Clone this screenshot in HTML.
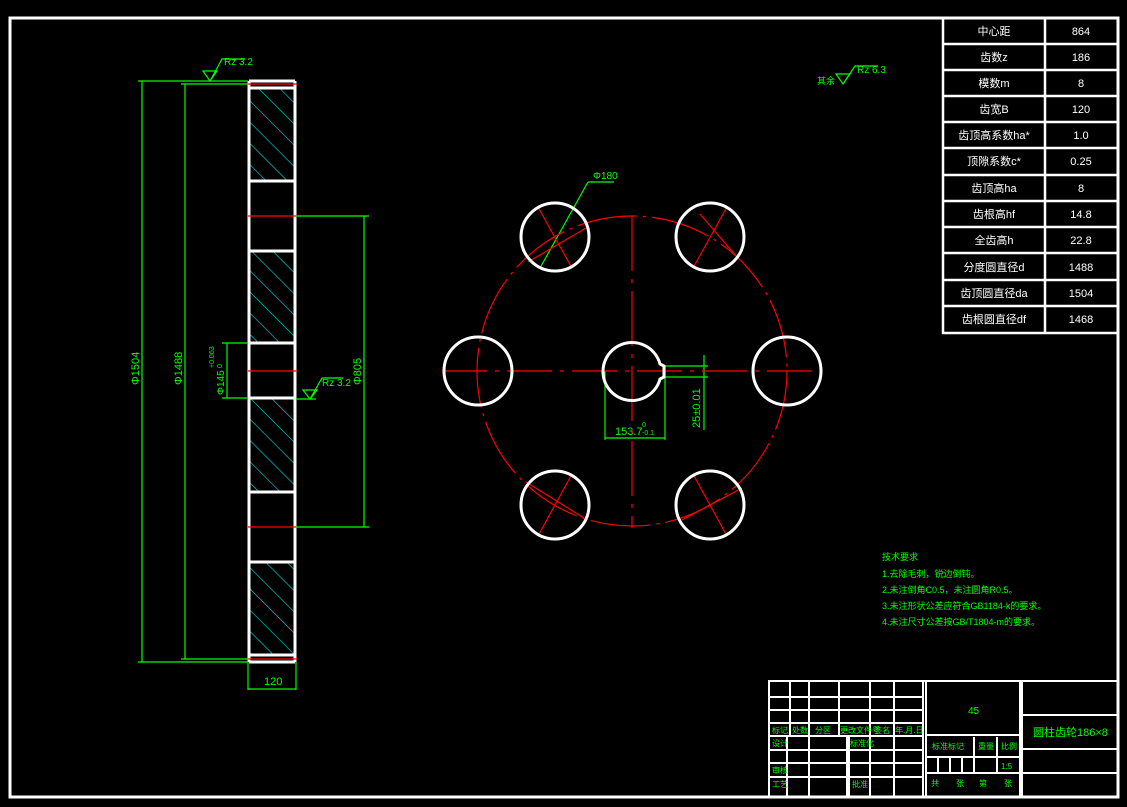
<!DOCTYPE html>
<html><head><meta charset="utf-8"><style>
html,body{margin:0;padding:0;background:#000;}
svg{display:block}
text{font-family:"Liberation Sans","Noto Sans CJK SC",sans-serif;}
</style></head><body>
<svg width="1127" height="807" viewBox="0 0 1127 807" xmlns="http://www.w3.org/2000/svg">
<defs>
<pattern id="h" patternUnits="userSpaceOnUse" width="15" height="15" patternTransform="rotate(-45)">
<line x1="0" y1="0" x2="0" y2="15" stroke="#00e0e0" stroke-width="1.2"/>
</pattern>
</defs>
<rect width="1127" height="807" fill="#000"/>
<rect x="10" y="18" width="1108" height="779" fill="none" stroke="#fff" stroke-width="3"/>

<g stroke="#fff" stroke-width="2.5" fill="none">
<rect x="943" y="18" width="175" height="315"/>
<line x1="1045" y1="18" x2="1045" y2="333"/>
<line x1="943" y1="44" x2="1118" y2="44"/><line x1="943" y1="70" x2="1118" y2="70"/>
<line x1="943" y1="96" x2="1118" y2="96"/><line x1="943" y1="122" x2="1118" y2="122"/>
<line x1="943" y1="148" x2="1118" y2="148"/><line x1="943" y1="175" x2="1118" y2="175"/>
<line x1="943" y1="201" x2="1118" y2="201"/><line x1="943" y1="227" x2="1118" y2="227"/>
<line x1="943" y1="253" x2="1118" y2="253"/><line x1="943" y1="280" x2="1118" y2="280"/>
<line x1="943" y1="306" x2="1118" y2="306"/>
</g>
<g fill="#fff" font-size="11" text-anchor="middle">
<text x="994" y="35">中心距</text><text x="1081" y="35">864</text>
<text x="994" y="61">齿数z</text><text x="1081" y="61">186</text>
<text x="994" y="87">模数m</text><text x="1081" y="87">8</text>
<text x="994" y="113">齿宽B</text><text x="1081" y="113">120</text>
<text x="994" y="139">齿顶高系数ha*</text><text x="1081" y="139">1.0</text>
<text x="994" y="165">顶隙系数c*</text><text x="1081" y="165">0.25</text>
<text x="994" y="192">齿顶高ha</text><text x="1081" y="192">8</text>
<text x="994" y="218">齿根高hf</text><text x="1081" y="218">14.8</text>
<text x="994" y="244">全齿高h</text><text x="1081" y="244">22.8</text>
<text x="994" y="271">分度圆直径d</text><text x="1081" y="271">1488</text>
<text x="994" y="297">齿顶圆直径da</text><text x="1081" y="297">1504</text>
<text x="994" y="323">齿根圆直径df</text><text x="1081" y="323">1468</text>
</g>

<g fill="url(#h)">
<rect x="250" y="89" width="44" height="92"/>
<rect x="250" y="252" width="44" height="91"/>
<rect x="250" y="399" width="44" height="93"/>
<rect x="250" y="563" width="44" height="92"/>
</g>
<g stroke="#fff" stroke-width="3" fill="none">
<line x1="249" y1="81" x2="249" y2="662"/>
<line x1="295" y1="81" x2="295" y2="662"/>
<line x1="249" y1="81" x2="295" y2="81"/>
<line x1="249" y1="662" x2="295" y2="662"/>
<line x1="249" y1="88" x2="295" y2="88"/><line x1="249" y1="181" x2="295" y2="181"/>
<line x1="249" y1="251" x2="295" y2="251"/><line x1="249" y1="343" x2="295" y2="343"/>
<line x1="249" y1="398" x2="295" y2="398"/><line x1="249" y1="492" x2="295" y2="492"/>
<line x1="249" y1="562" x2="295" y2="562"/><line x1="249" y1="655" x2="295" y2="655"/>
</g>
<g stroke="#f00" stroke-width="1.3">
<line x1="248" y1="84" x2="297" y2="84"/><line x1="248" y1="216" x2="297" y2="216"/>
<line x1="248" y1="371" x2="297" y2="371"/><line x1="248" y1="527" x2="297" y2="527"/>
<line x1="248" y1="659" x2="297" y2="659"/>
</g>
<g stroke="#0f0" stroke-width="1.2" fill="none">
<line x1="138" y1="81" x2="248" y2="81"/><line x1="142" y1="81" x2="142" y2="662"/><line x1="138" y1="662" x2="248" y2="662"/>
<line x1="181" y1="84" x2="248" y2="84"/><line x1="185" y1="84" x2="185" y2="659"/><line x1="181" y1="659" x2="248" y2="659"/>
<line x1="222" y1="343" x2="248" y2="343"/><line x1="227" y1="343" x2="227" y2="398"/><line x1="222" y1="398" x2="248" y2="398"/>
<line x1="296" y1="216" x2="369" y2="216"/><line x1="364" y1="216" x2="364" y2="527"/><line x1="296" y1="527" x2="369" y2="527"/>
<line x1="248" y1="662" x2="248" y2="690"/><line x1="296" y1="662" x2="296" y2="690"/><line x1="248" y1="689" x2="296" y2="689"/>
<line x1="296" y1="399" x2="316" y2="399"/>
<path d="M203,71 L217,71 L210,81 Z M210,81 L222,59 L245,59"/>
<path d="M303,390 L317,390 L310,399 Z M310,399 L322,378 L343,378"/>
<path d="M836,74 L850,74 L843,84 Z M843,84 L855,66 L878,66"/>
<line x1="605" y1="371" x2="605" y2="440"/><line x1="665" y1="366" x2="665" y2="440"/>
<line x1="605" y1="438" x2="665" y2="438"/>
<line x1="665" y1="366" x2="708" y2="366"/><line x1="665" y1="377" x2="708" y2="377"/>
<line x1="704" y1="355" x2="704" y2="430"/>
<line x1="540" y1="268" x2="588" y2="182"/><line x1="588" y1="182" x2="614" y2="182"/>
</g>
<g fill="#0f0" font-size="10">
<text x="224" y="65">Rz 3.2</text>
<text x="322" y="386">Rz 3.2</text>
<text x="857" y="73">Rz 6.3</text>
<text x="817" y="84" font-size="9">其余</text>
<text x="593" y="179">Φ180</text>
<text x="264" y="685" font-size="11">120</text>
<text x="615" y="435" font-size="11">153.7</text>
<text x="642" y="427" font-size="7">0</text>
<text x="642" y="435" font-size="7">-0.1</text>
<text transform="translate(139,385) rotate(-90)" font-size="11">Φ1504</text>
<text transform="translate(182,385) rotate(-90)" font-size="11">Φ1488</text>
<text transform="translate(224,395) rotate(-90)" font-size="10">Φ145</text>
<text transform="translate(214,368) rotate(-90)" font-size="7">+0.063</text>
<text transform="translate(222,368) rotate(-90)" font-size="7">0</text>
<text transform="translate(361,385) rotate(-90)" font-size="11">Φ805</text>
<text transform="translate(700,428) rotate(-90)" font-size="11">25±0.01</text>
</g>

<g stroke="#f00" stroke-width="1.2" fill="none">
<circle cx="632" cy="371" r="155" stroke-dasharray="60,6,3,6"/>
<line x1="442" y1="371" x2="822" y2="371" stroke-dasharray="45,8,4,8"/>
<line x1="632" y1="216" x2="632" y2="528" stroke-dasharray="55,8,4,8"/>
<line x1="538" y1="207" x2="572" y2="268"/><line x1="528" y1="262" x2="586" y2="228"/>
<line x1="727" y1="207" x2="693" y2="268"/><line x1="700" y1="214" x2="738" y2="258"/>
<line x1="572" y1="474" x2="538" y2="536"/><line x1="526" y1="482" x2="584" y2="518"/>
<line x1="693" y1="474" x2="727" y2="536"/><line x1="682" y1="520" x2="742" y2="488"/>
</g>
<g stroke="#fff" stroke-width="3" fill="none">
<circle cx="555" cy="237" r="34"/><circle cx="710" cy="237" r="34"/>
<circle cx="478" cy="371" r="34"/><circle cx="787" cy="371" r="34"/>
<circle cx="555" cy="505" r="34"/><circle cx="710" cy="505" r="34"/>
<path d="M660,364 A29,29 0 1 0 660,379 L664,377 L664,366 Z"/>
</g>

<g fill="#0f0" font-size="9">
<text x="882" y="560">技术要求</text>
<text x="882" y="577">1.去除毛刺，锐边倒钝。</text>
<text x="882" y="593">2.未注倒角C0.5，未注圆角R0.5。</text>
<text x="882" y="609">3.未注形状公差应符合GB1184-k的要求。</text>
<text x="882" y="625">4.未注尺寸公差按GB/T1804-m的要求。</text>
</g>

<g stroke="#fff" stroke-width="2" fill="none">
<rect x="769" y="681" width="349" height="116"/>
<line x1="769" y1="697" x2="923" y2="697"/><line x1="769" y1="710" x2="923" y2="710"/>
<line x1="769" y1="723" x2="923" y2="723"/><line x1="769" y1="736" x2="923" y2="736"/>
<line x1="790" y1="681" x2="790" y2="736"/><line x1="809" y1="681" x2="809" y2="736"/>
<line x1="839" y1="681" x2="839" y2="736"/><line x1="870" y1="681" x2="870" y2="736"/>
<line x1="894" y1="681" x2="894" y2="736"/>
<line x1="923" y1="681" x2="923" y2="797"/><line x1="926" y1="681" x2="926" y2="797"/>
<line x1="769" y1="750" x2="923" y2="750"/><line x1="769" y1="763" x2="923" y2="763"/>
<line x1="769" y1="777" x2="923" y2="777"/>
<line x1="787" y1="736" x2="787" y2="797"/><line x1="809" y1="736" x2="809" y2="797"/>
<line x1="847" y1="736" x2="847" y2="797"/><line x1="849" y1="736" x2="849" y2="797"/>
<line x1="870" y1="736" x2="870" y2="797"/><line x1="894" y1="736" x2="894" y2="797"/>
<line x1="926" y1="735" x2="1020" y2="735"/><line x1="926" y1="757" x2="1020" y2="757"/>
<line x1="926" y1="773" x2="1020" y2="773"/>
<line x1="974" y1="737" x2="974" y2="773"/><line x1="997" y1="737" x2="997" y2="773"/>
<line x1="938" y1="757" x2="938" y2="773"/><line x1="950" y1="757" x2="950" y2="773"/>
<line x1="962" y1="757" x2="962" y2="773"/>
<line x1="1020" y1="681" x2="1020" y2="797"/><line x1="1022" y1="681" x2="1022" y2="797"/>
<line x1="1022" y1="715" x2="1118" y2="715"/><line x1="1022" y1="749" x2="1118" y2="749"/>
<line x1="1022" y1="773" x2="1118" y2="773"/>
</g>
<g fill="#0f0" font-size="8">
<text x="772" y="733">标记</text><text x="792" y="733">处数</text><text x="815" y="733">分区</text>
<text x="840" y="733">更改文件号</text><text x="874" y="733">签名</text><text x="895" y="733">年.月.日</text>
<text x="772" y="746">设计</text><text x="850" y="746">标准化</text>
<text x="772" y="773">审核</text><text x="772" y="787">工艺</text><text x="852" y="787">批准</text>
<text x="932" y="749">标准标记</text><text x="978" y="749">重量</text><text x="1001" y="749">比例</text>
<text x="1001" y="769">1:5</text>
<text x="931" y="786">共</text><text x="956" y="786">张</text><text x="979" y="786">第</text><text x="1004" y="786">张</text>
<text x="968" y="714" font-size="10">45</text>
<text x="1033" y="736" font-size="11">圆柱齿轮186×8</text>
</g>
</svg>
</body></html>
